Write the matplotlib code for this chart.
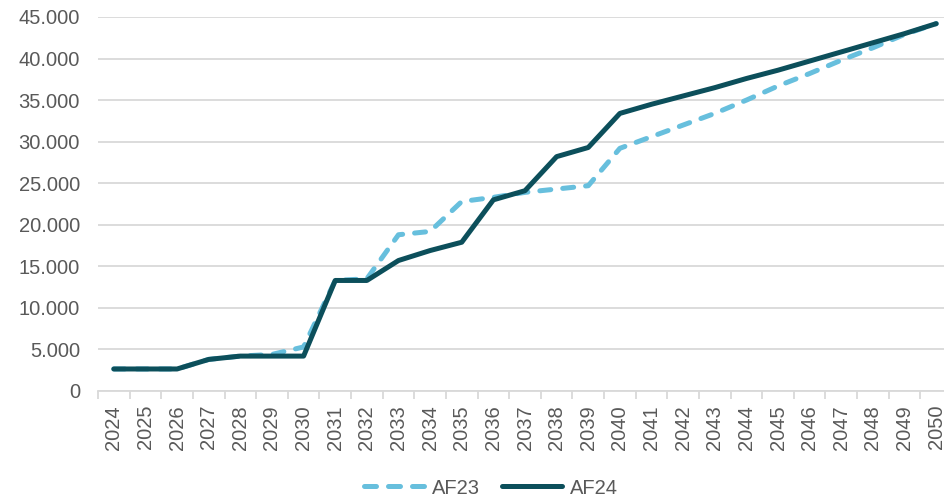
import matplotlib
matplotlib.use("Agg")
import matplotlib.pyplot as plt
from matplotlib.lines import Line2D
from matplotlib.ticker import FuncFormatter
import numpy as np

years = list(range(2024, 2051))
af23 = [2650, 2650, 2650, 3800, 4200, 4400, 5300, 13300, 13500, 18800,
        19200, 22800, 23300, 23900, 24300, 24700, 29200, 30600, 32000, 33400,
        35000, 36700, 38200, 39800, 41300, 42900, 44200]
af24 = [2650, 2650, 2650, 3800, 4200, 4200, 4200, 13300, 13300, 15700,
        16900, 17900, 23000, 24100, 28200, 29300, 33400, 34500, 35500, 36500,
        37600, 38600, 39700, 40800, 41900, 43000, 44200]
series_names = ["AF23", "AF24"]

c_af23 = "#67BFDD"
c_af24 = "#0C4F5B"
grey_txt = "#595959"
grid_c = "#D9D9D9"
fs = 14.5
lw = 3.6
dash = (0, (2.2, 2.4))

plt.rcParams["font.family"] = ["Liberation Sans", "DejaVu Sans"]

fig = plt.figure(figsize=(9.44, 4.99), dpi=100)
ax = fig.add_axes([98 / 944, 1 - 391 / 499, (952 - 98) / 944, (391 - 17) / 499])

x = np.arange(len(years))
ax.plot(x, af23, color=c_af23, linewidth=lw, linestyle=dash,
        dash_capstyle="round", dash_joinstyle="round", zorder=3)
ax.plot(x, af24, color=c_af24, linewidth=lw, solid_capstyle="round",
        solid_joinstyle="round", zorder=4)

ax.set_xlim(-0.5, len(years) - 0.5)
ax.set_ylim(0, 45000)
ax.set_yticks(np.arange(0, 45001, 5000))
ax.yaxis.set_major_formatter(FuncFormatter(lambda v, p: f"{int(v):,}".replace(",", ".")))
ax.set_xticks(x)
ax.set_xticklabels([str(y) for y in years], rotation=90)
ax.set_xticks(np.arange(-0.5, len(years), 1), minor=True)

ax.grid(axis="y", color=grid_c, linewidth=1.3)
ax.set_axisbelow(True)
for s in ["top", "right", "left"]:
    ax.spines[s].set_visible(False)
ax.spines["bottom"].set_color(grid_c)
ax.spines["bottom"].set_linewidth(1.3)

ax.tick_params(axis="y", length=0, labelsize=fs, labelcolor=grey_txt, pad=13)
ax.tick_params(axis="x", which="major", length=0, labelsize=fs, labelcolor=grey_txt, pad=10)
ax.tick_params(axis="x", which="minor", length=6, color=grid_c, width=1.3)

handles = [
    Line2D([], [], color=c_af23, linewidth=lw, linestyle=(0, (2.4, 2.4)), dash_capstyle="round"),
    Line2D([], [], color=c_af24, linewidth=lw, solid_capstyle="round"),
]
fig.legend(handles, series_names, loc="center", bbox_to_anchor=(491 / 944, 1 - 488 / 499),
           ncol=2, frameon=False, fontsize=fs, labelcolor=grey_txt,
           handlelength=3.0, handletextpad=0.35, columnspacing=1.1)

fig.savefig("out.png", dpi=100)
